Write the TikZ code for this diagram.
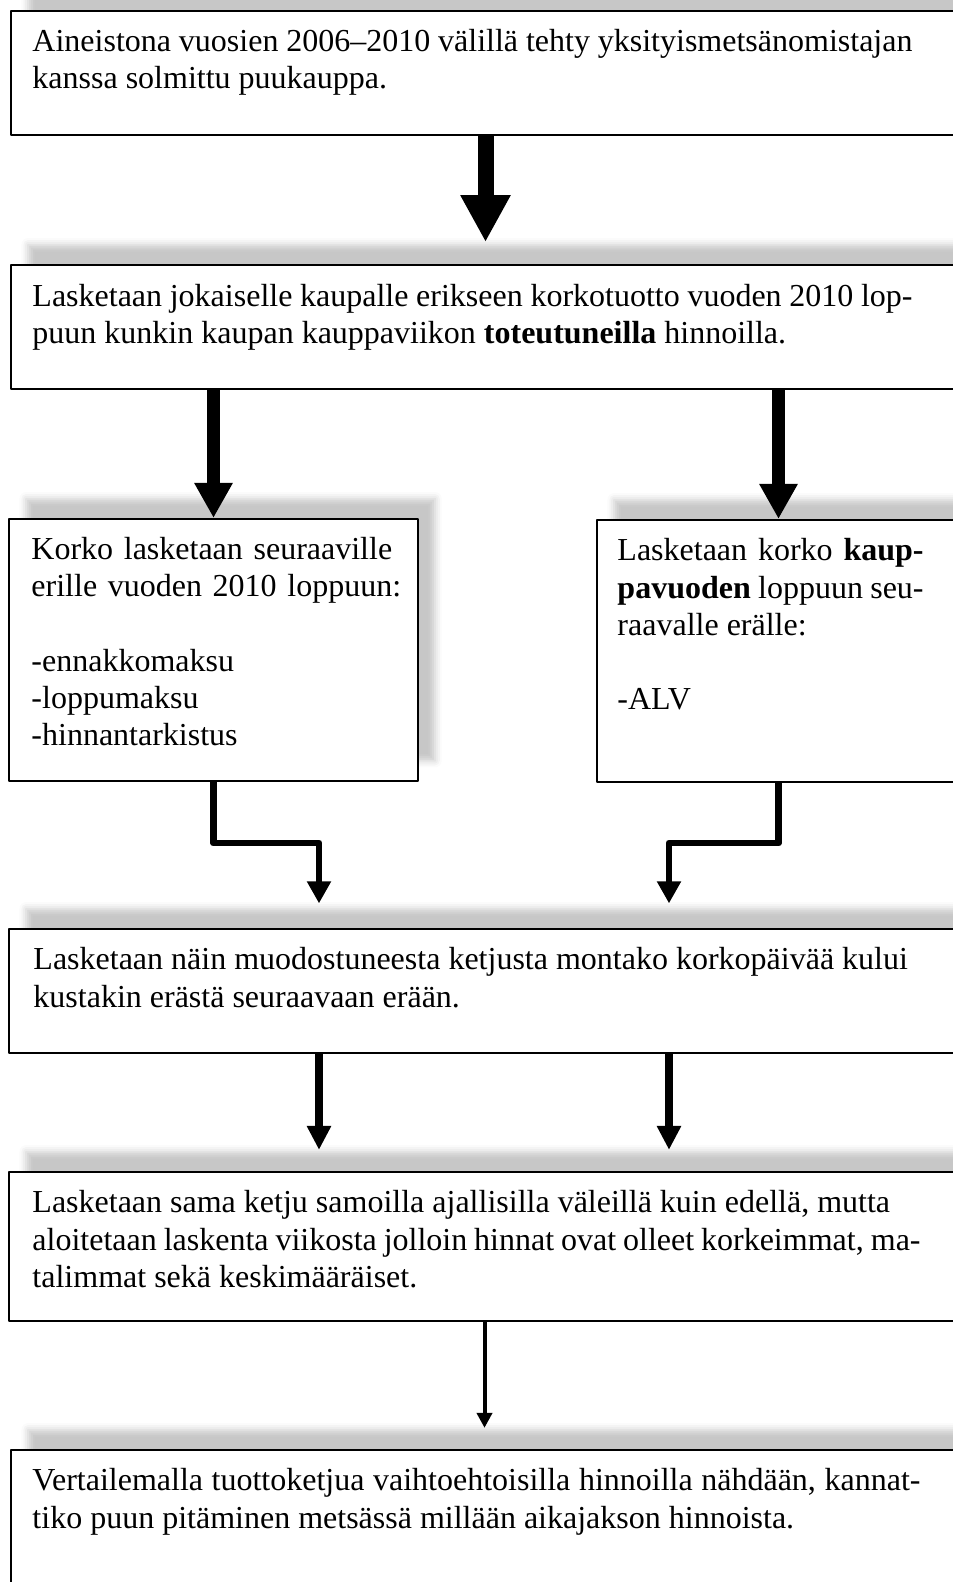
\documentclass[tikz,border=0pt]{standalone}
\usepackage{fontspec}
\setmainfont{Liberation Serif}
\usetikzlibrary{arrows.meta,fit,shadows.blur}
\setlength{\parindent}{0pt}

\begin{document}
\begin{tikzpicture}[x=0.375pt, y=-0.375pt, line join=round,
	font=\fontsize{12pt}{13.9pt}\selectfont,
	box/.style={draw, line width=0.8pt, fill=white, inner sep=0pt,
		blur shadow={shadow xshift=6.4pt, shadow yshift=7.6pt, shadow blur radius=2.5pt, shadow opacity=22}},
	txt/.style={anchor=base west, inner sep=0pt, text width=330pt, align=justify},
	big/.style={line width=6pt, -{Triangle[length=17.6pt,width=17.6pt]}, shorten >=8.2pt},
	mid/.style={line width=4.9pt, -{Triangle[length=13.1pt,width=13.5pt]}},
	bent/.style={line width=2.6pt, -{Triangle[length=8.3pt,width=8.6pt]}, shorten >=9.2pt},
	down/.style={line width=2.8pt, -{Triangle[length=9pt,width=8.6pt]}, shorten >=7.9pt},
	thin/.style={line width=1.5pt, -{Triangle[length=5.6pt,width=5.6pt]}, shorten >=7.9pt}]
	\useasboundingbox (0,0) rectangle (952,1582);
	\node[box, fit={(11,11) (960,135)}] (b1) {};
	\node[box, fit={(11,265) (960,389)}] (b2) {};
	\node[box, fit={(9,519) (418,781)}] (b3l) {};
	\node[box, fit={(597,520) (960,782)}] (b3r) {};
	\node[box, fit={(9,929) (960,1053)}] (b4) {};
	\node[box, fit={(9,1172) (960,1321)}] (b5) {};
	\node[box, fit={(11,1450) (960,1620)}] (b6) {};
	\path (319,843) coordinate (jl) (669,843) coordinate (jr);

	\node[txt] (t1) at ([shift={(22,42)}]b1.north west)
		{Aineistona vuosien 2006–2010 välillä tehty yksityismetsänomistajan\linebreak kanssa solmittu puukauppa.};
	\node[txt] (t2) at ([shift={(22,43)}]b2.north west)
		{Lasketaan jokaiselle kaupalle erikseen korkotuotto vuoden 2010 lop-\linebreak puun kunkin kaupan kauppaviikon \textbf{toteutuneilla} hinnoilla.};
	\node[txt, text width=142.5pt, align=left] (t3l) at ([shift={(23,42)}]b3l.north west)
		{Korko lasketaan seuraaville\newline erille vuoden 2010 loppuun:\newline\mbox{}\newline -ennakkomaksu\newline -loppumaksu\newline -hinnantarkistus};
	\node[txt, text width=114.8pt] (t3r) at ([shift={(21,42)}]b3r.north west)
		{Lasketaan korko \textbf{kaup-}\linebreak \textbf{pavuoden} loppuun seu-\linebreak raavalle erälle:\newline\mbox{}\newline -ALV};
	\node[txt] (t4) at ([shift={(25,42)}]b4.north west)
		{Lasketaan näin muodostuneesta ketjusta montako korkopäivää kului\newline kustakin erästä seuraavaan erään.};
	\node[txt, text width=333pt] (t5) at ([shift={(24,42)}]b5.north west)
		{Lasketaan sama ketju samoilla ajallisilla väleillä kuin edellä, mutta\newline aloitetaan laskenta viikosta jolloin hinnat ovat olleet korkeimmat, ma-\linebreak talimmat sekä keskimääräiset.};
	\node[txt, text width=333pt] (t6) at ([shift={(22,42)}]b6.north west)
		{Vertailemalla tuottoketjua vaihtoehtoisilla hinnoilla nähdään, kannat-\linebreak tiko puun pitäminen metsässä millään aikajakson hinnoista.};

	\draw[big] (b1) -- (b2);
	\draw[mid] (b3l |- b2.south) -- (b3l);
	\draw[mid] (b3r |- b2.south) -- (b3r);
	\draw[bent] (b3l) |- (jl) -- (jl |- b4.north);
	\draw[bent] (b3r) |- (jr) -- (jr |- b4.north);
	\foreach \c in {jl,jr}{
		\draw[down] (\c |- b4.south) -- (\c |- b5.north);
	}
	\draw[thin] (b5.south) -- (b5.south |- b6.north);
\end{tikzpicture}
\end{document}
